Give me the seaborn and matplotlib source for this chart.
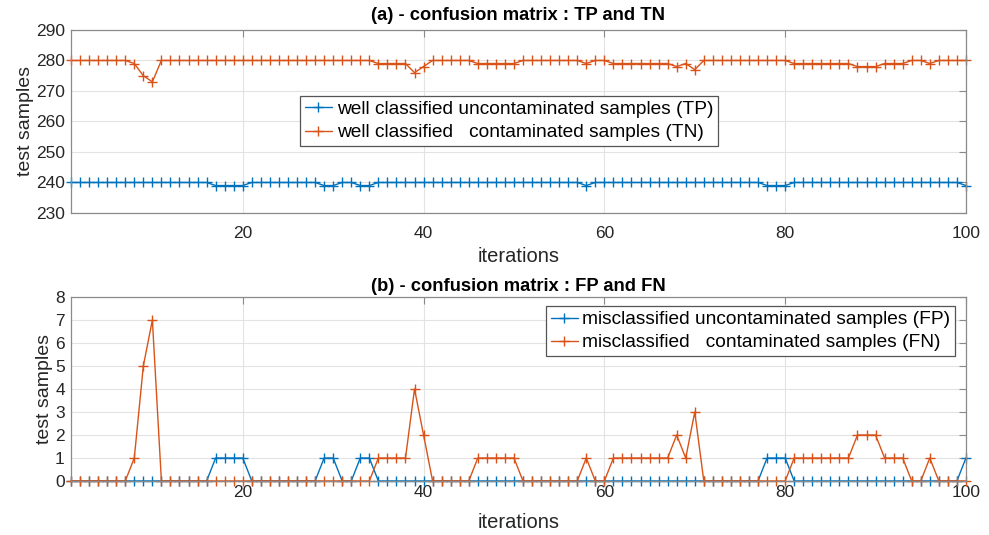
import numpy as np
import pandas as pd
import matplotlib
matplotlib.use("Agg")
import matplotlib.pyplot as plt
import seaborn as sns

iterations = list(range(1, 101))

# True positives (well classified uncontaminated samples)
tp = [240]*16 + [239]*4 + [240]*8 + [239]*2 + [240]*2 + [239]*2 + [240]*23 + [239] + [240]*19 + [239]*3 + [240]*19 + [239]
# True negatives (well classified contaminated samples)
tn = ([280]*7 + [279, 275, 273] + [280]*24 + [279]*4 + [276, 278] + [280]*5 + [279]*5 + [280]*7 + [279]
      + [280]*2 + [279]*7 + [278, 279, 277] + [280]*10 + [279]*7 + [278]*3 + [279]*3 + [280]*2 + [279] + [280]*4)
# False positives
fp = [0]*16 + [1]*4 + [0]*8 + [1]*2 + [0]*2 + [1]*2 + [0]*43 + [1]*3 + [0]*19 + [1]
# False negatives
fn = ([0]*7 + [1, 5, 7] + [0]*24 + [1]*4 + [4, 2] + [0]*5 + [1]*5 + [0]*7 + [1]
      + [0]*2 + [1]*7 + [2, 1, 3] + [0]*10 + [1]*7 + [2]*3 + [1]*3 + [0]*2 + [1] + [0]*4)

labels_top = ["well classified uncontaminated samples (TP)", "well classified   contaminated samples (TN)"]
labels_bot = ["misclassified uncontaminated samples (FP)", "misclassified   contaminated samples (FN)"]
titles = ["(a) - confusion matrix : TP and TN", "(b) - confusion matrix : FP and FN"]

BLUE = "#0072BD"
ORANGE = "#D95319"
TXT = "#262626"

sns.set_theme(style="white")
plt.rcParams['font.family'] = ['Liberation Sans', 'DejaVu Sans']

fig = plt.figure(figsize=(9.89, 5.35), dpi=100)
ax1 = fig.add_axes([0.0718, 0.6019, 0.9049, 0.3421])
ax2 = fig.add_axes([0.0718, 0.1009, 0.9049, 0.3439])

def style(ax, ylim, yticks, xpad, xlabelpad):
    ax.set_xlim(1, 100)
    ax.set_ylim(*ylim)
    ax.set_xticks([20, 40, 60, 80, 100])
    ax.set_yticks(yticks)
    ax.grid(True, color="#e3e3e3", linewidth=0.8)
    ax.set_axisbelow(True)
    for s in ax.spines.values():
        s.set_color("#8a8a8a")
        s.set_linewidth(0.9)
        s.set_visible(True)
    ax.tick_params(direction="in", length=5, width=0.8, color="#8a8a8a",
                   top=True, right=True, labelsize=12.5, labelcolor=TXT)
    ax.tick_params(axis="y", pad=4.5)
    ax.tick_params(axis="x", pad=xpad)
    ax.set_xlabel("iterations", fontsize=14.5, color=TXT, labelpad=xlabelpad)
    ax.set_ylabel("test samples", fontsize=14, color=TXT, labelpad=1.5)

df_top = pd.DataFrame({"it": iterations, "tp": tp, "tn": tn})
df_bot = pd.DataFrame({"it": iterations, "fp": fp, "fn": fn})

kw = dict(marker="+", markersize=7, markeredgewidth=1.0, linewidth=1.0)
sns.lineplot(data=df_top, x="it", y="tp", color=BLUE, markeredgecolor=BLUE, label=labels_top[0], ax=ax1, **kw)
sns.lineplot(data=df_top, x="it", y="tn", color=ORANGE, markeredgecolor=ORANGE, label=labels_top[1], ax=ax1, **kw)
sns.lineplot(data=df_bot, x="it", y="fp", color=BLUE, markeredgecolor=BLUE, label=labels_bot[0], ax=ax2, **kw)
sns.lineplot(data=df_bot, x="it", y="fn", color=ORANGE, markeredgecolor=ORANGE, label=labels_bot[1], ax=ax2, **kw)

style(ax1, (230, 290), list(range(230, 291, 10)), xpad=9.5, xlabelpad=4)
style(ax2, (0, 8), list(range(0, 9)), xpad=3, xlabelpad=9)

for ax in (ax1, ax2):
    for ln in ax.get_lines():
        ln.set_clip_on(False)

ax1.set_title(titles[0], fontsize=13.2, fontweight="bold", color="black", pad=7.5)
ax2.set_title(titles[1], fontsize=13.2, fontweight="bold", color="black", pad=4)

leg_kw = dict(fontsize=13.8, frameon=True, fancybox=False, framealpha=1, edgecolor="#555555",
              handlelength=1.4, handletextpad=0.25, borderpad=0.25, labelspacing=0.3,
              borderaxespad=0)
l1 = ax1.legend(loc="upper left", bbox_to_anchor=(0.256, 0.64), **leg_kw)
l2 = ax2.legend(loc="upper right", bbox_to_anchor=(0.988, 0.951), **leg_kw)
for l in (l1, l2):
    l.get_frame().set_linewidth(0.9)
    for t in l.get_texts():
        t.set_color("black")
    for h in l.legend_handles:
        h.set_markeredgecolor(h.get_color())

fig.savefig("out.png", dpi=100)
